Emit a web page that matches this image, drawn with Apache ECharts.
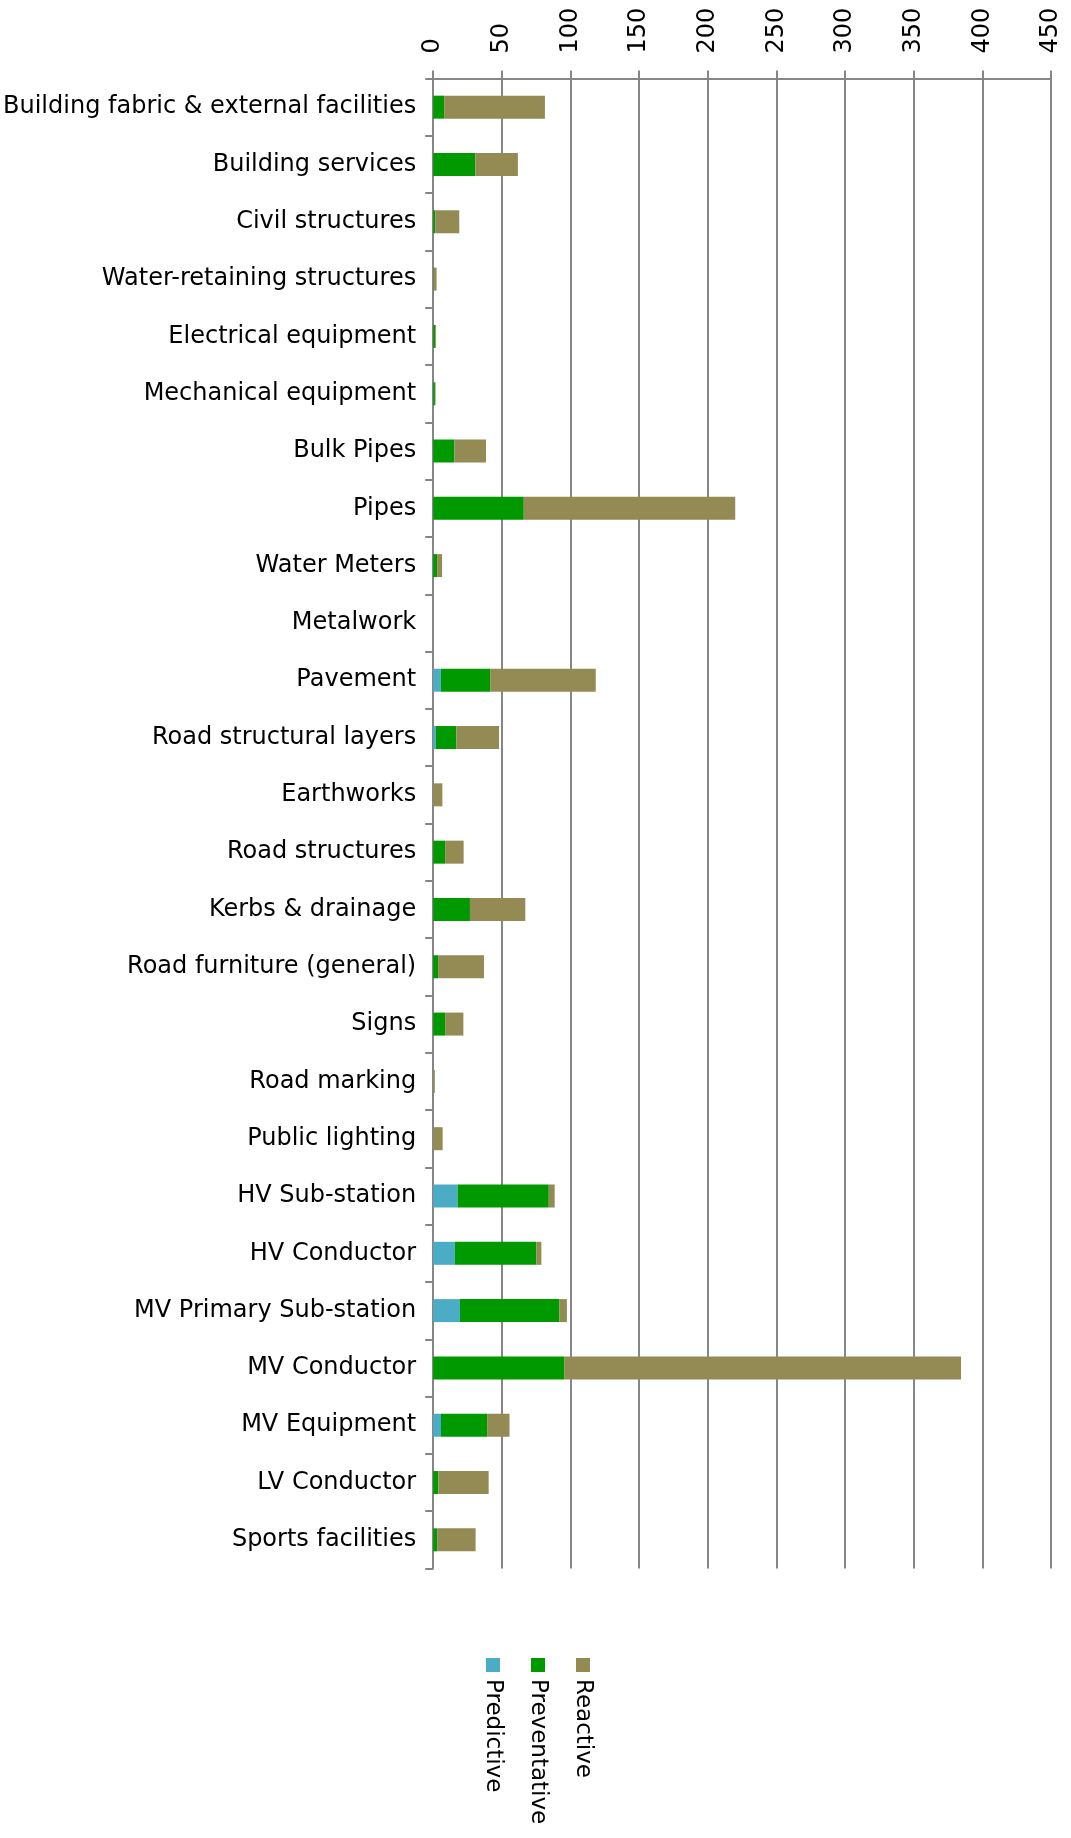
<!DOCTYPE html>
<html>
<head>
<meta charset="utf-8">
<script src="https://cdn.jsdelivr.net/npm/echarts@6/dist/echarts.min.js"></script>
<style>
html,body{margin:0;padding:0;background:#fff;}
#chart{width:1071px;height:1838px;}
</style>
</head>
<body>
<div id="chart"></div>
<script>
const categories = [
  "Building fabric & external facilities","Building services","Civil structures",
  "Water-retaining structures","Electrical equipment","Mechanical equipment",
  "Bulk Pipes","Pipes","Water Meters","Metalwork","Pavement","Road structural layers",
  "Earthworks","Road structures","Kerbs & drainage","Road furniture (general)","Signs",
  "Road marking","Public lighting","HV Sub-station","HV Conductor","MV Primary Sub-station",
  "MV Conductor","MV Equipment","LV Conductor","Sports facilities"
];
const predictive   = [0,0,0,0,0,0,0,0,0,0,5.6,2,0,0,0,0,0,0,0,17.8,15.8,19.5,0,5.7,0,0];
const preventative = [8,30.7,1.5,0.3,1.5,1.3,15.5,66,2.9,0,35.9,14.9,0,8.7,26.8,3.6,8.7,0,0,66.4,59.3,72.5,95.7,33.6,3.7,2.9];
const reactive     = [73.4,31,17.5,2.2,0.6,0.4,23,154,3.6,0,76.9,31.1,6.7,13.5,40.3,33.4,13.3,1.2,6.9,4.3,3.7,5.4,288.8,16.3,36.7,28];
const seriesNames = ["Predictive","Preventative","Reactive"];
const seriesData = [predictive, preventative, reactive];
const colors = ["#4BACC6","#009900","#948A54"];
const valueTicks = {min:0, max:450, interval:50};

const FONT = "DejaVu Sans";
const chart = echarts.init(document.getElementById('chart'), null, {renderer:'canvas'});

const legendGraphics = [];
seriesNames.forEach((name, i) => {
  const cx = 493 + i * 45;
  legendGraphics.push({
    type:'rect', shape:{x:cx-7, y:1658, width:14, height:14},
    style:{fill:colors[i]}
  });
  legendGraphics.push({
    type:'text', x:cx, y:1679, rotation:-Math.PI/2,
    style:{text:name, font:'23px "' + FONT + '"', fill:'#000', textAlign:'left', textVerticalAlign:'middle'}
  });
});

chart.setOption({
  animation:false,
  backgroundColor:'#fff',
  color: colors,
  grid:{left:430, top:78.5, right:20, bottom:269.5, containLabel:false},
  xAxis:{
    type:'value', position:'top', min:valueTicks.min, max:valueTicks.max, interval:valueTicks.interval,
    axisLine:{show:true, lineStyle:{color:'#868686', width:2}},
    axisTick:{show:true, length:8, lineStyle:{color:'#868686', width:2}},
    splitLine:{show:true, lineStyle:{color:'#868686', width:2}},
    axisLabel:{rotate:-90, margin:25, color:'#000', fontFamily:FONT, fontSize:24}
  },
  yAxis:{
    type:'category', data:categories, inverse:true,
    axisLine:{show:true, lineStyle:{color:'#868686', width:2}},
    axisTick:{show:true, length:8, alignWithLabel:false, lineStyle:{color:'#868686', width:2}},
    axisLabel:{margin:17, color:'#000', fontFamily:FONT, fontSize:24, interval:0}
  },
  series: seriesNames.map((name, i) => ({
    name, type:'bar', stack:'total', data:seriesData[i], barWidth:23,
    itemStyle:{color:colors[i]}
  })),
  graphic: legendGraphics
});
</script>
</body>
</html>
